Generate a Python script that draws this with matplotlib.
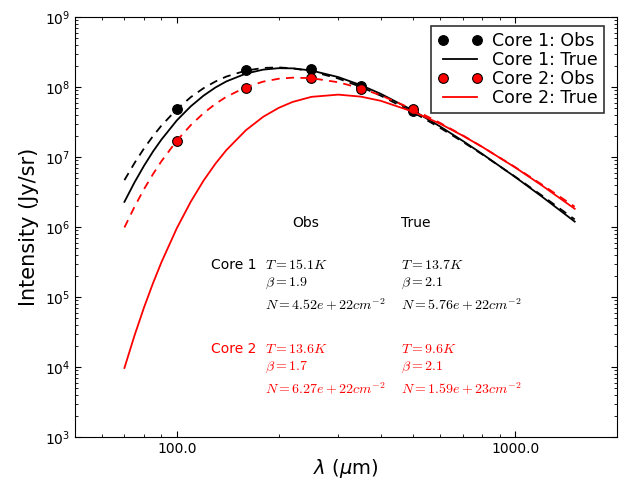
import matplotlib
matplotlib.use('Agg')
import matplotlib.pyplot as plt
from matplotlib.ticker import FormatStrFormatter, NullFormatter

# wavelength grid (micron) for the model curves
wave = [70, 75, 80, 85, 90, 100, 110, 120, 130, 140, 160, 180, 200, 220, 250,
        300, 350, 400, 500, 600, 700, 800, 1000, 1200, 1500]

core1_true = [2.3e6, 4.38e6, 7.55e6, 1.203e7, 1.78e7, 3.36e7, 5.35e7, 7.60e7, 9.91e7,
              1.21e8, 1.567e8, 1.786e8, 1.873e8, 1.862e8, 1.733e8, 1.397e8, 1.071e8,
              8.08e7, 4.63e7, 2.75e7, 1.71e7, 1.11e7, 5.21e6, 2.73e6, 1.2e6]
core1_fit = [4.7e6, 8.28e6, 1.337e7, 2.00e7, 2.82e7, 4.85e7, 7.23e7, 9.71e7, 1.207e8,
             1.42e8, 1.73e8, 1.889e8, 1.92e8, 1.864e8, 1.69e8, 1.333e8, 1.011e8,
             7.60e7, 4.37e7, 2.63e7, 1.66e7, 1.094e7, 5.26e6, 2.83e6, 1.29e6]
core2_true = [9.7e3, 2.84e4, 7.13e4, 1.575e5, 3.13e5, 9.67e5, 2.32e6, 4.64e6, 8.06e6,
              1.259e7, 2.43e7, 3.78e7, 5.07e7, 6.17e7, 7.29e7, 7.84e7, 7.34e7,
              6.41e7, 4.46e7, 3.01e7, 2.03e7, 1.40e7, 7.14e6, 3.94e6, 1.83e6]
core2_fit = [9.9e5, 1.96e6, 3.50e6, 5.72e6, 8.73e6, 1.725e7, 2.88e7, 4.27e7, 5.78e7,
             7.29e7, 1.002e8, 1.203e8, 1.323e8, 1.371e8, 1.349e8, 1.178e8, 9.65e7,
             7.68e7, 4.82e7, 3.09e7, 2.05e7, 1.40e7, 7.20e6, 4.06e6, 1.96e6]

# observed bands
bands = [100, 160, 250, 350, 500]
core1_obs = [4.85e7, 1.77e8, 1.81e8, 1.04e8, 4.6e7]
core2_obs = [1.71e7, 9.7e7, 1.35e8, 9.4e7, 4.85e7]

# fit results
columns = ['Obs', 'True']
core1_text = [[r'$T=15.1K$', r'$\beta=1.9$', r'$N=4.52e+22cm^{-2}$'],
              [r'$T=13.7K$', r'$\beta=2.1$', r'$N=5.76e+22cm^{-2}$']]
core2_text = [[r'$T=13.6K$', r'$\beta=1.7$', r'$N=6.27e+22cm^{-2}$'],
              [r'$T=9.6K$', r'$\beta=2.1$', r'$N=1.59e+23cm^{-2}$']]

fig = plt.figure(figsize=(6.26, 4.79), dpi=100)
ax = fig.add_axes([0.1198, 0.0877, 0.8658, 0.8762])

ax.plot(bands, core1_obs, 'o', color='k', mec='k', ms=7, mew=0.8, label='Core 1: Obs')
ax.plot(wave, core1_fit, color='k', lw=1.3, dashes=(4.5, 3.5))
ax.plot(wave, core1_true, color='k', lw=1.3, label='Core 1: True')
ax.plot(bands, core2_obs, 'o', color='r', mec='k', ms=7, mew=0.8, label='Core 2: Obs')
ax.plot(wave, core2_fit, color='r', lw=1.3, dashes=(4.5, 3.5))
ax.plot(wave, core2_true, color='r', lw=1.3, label='Core 2: True')

ax.set_xscale('log')
ax.set_yscale('log')
ax.set_xlim(50, 2000)
ax.set_ylim(1e3, 1e9)
ax.xaxis.set_major_formatter(FormatStrFormatter('%.1f'))
ax.xaxis.set_minor_formatter(NullFormatter())
ax.yaxis.set_minor_formatter(NullFormatter())
ax.tick_params(which='both', direction='in', top=True, right=True, labelsize=10)
ax.tick_params(which='major', length=4)
ax.tick_params(which='minor', length=2)

ax.set_xlabel(r'$\lambda$ ($\mu$m)', fontsize=14, labelpad=1,
              math_fontfamily='dejavusans')
ax.set_ylabel('Intensity (Jy/sr)', fontsize=15)

leg = ax.legend(loc='upper right', bbox_to_anchor=(0.976, 0.979), borderaxespad=0,
                numpoints=2, fontsize=12.5, fancybox=False, framealpha=1,
                edgecolor='0.2', handlelength=2.6, handletextpad=0.55,
                labelspacing=0.05, borderpad=0.35)
leg.get_frame().set_linewidth(1.2)

# annotations
col_x = [0.3506, 0.6015]
head_x = [0.401, 0.6015]
rows1 = [0.3996, 0.3598, 0.3026]
rows2 = [0.2013, 0.1597, 0.1025]
for hx, name in zip(head_x, columns):
    ax.text(hx, 0.4996, name, transform=ax.transAxes, fontsize=10)
ax.text(0.251, rows1[0], 'Core 1', transform=ax.transAxes, fontsize=10, color='k')
ax.text(0.251, rows2[0], 'Core 2', transform=ax.transAxes, fontsize=10, color='r')
for cx, lines in zip(col_x, core1_text):
    for ry, s in zip(rows1, lines):
        ax.text(cx, ry, s, transform=ax.transAxes, fontsize=10, color='k',
                math_fontfamily='cm')
for cx, lines in zip(col_x, core2_text):
    for ry, s in zip(rows2, lines):
        ax.text(cx, ry, s, transform=ax.transAxes, fontsize=10, color='r',
                math_fontfamily='cm')

plt.savefig('out.png', dpi=100)
